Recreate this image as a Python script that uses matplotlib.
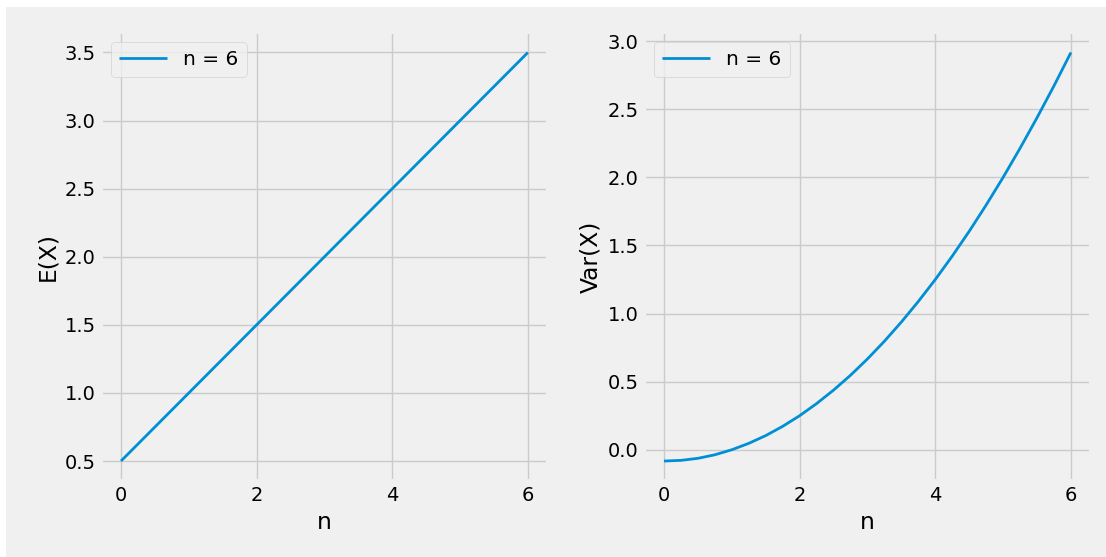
import matplotlib
matplotlib.use('Agg')
import matplotlib.pyplot as plt
from matplotlib.patches import Rectangle

# values
n_mean = [0, 6]
mean_vals = [0.5, 3.5]

n_var = [0, 0.25, 0.5, 0.75, 1, 1.25, 1.5, 1.75, 2, 2.25, 2.5, 2.75, 3,
         3.25, 3.5, 3.75, 4, 4.25, 4.5, 4.75, 5, 5.25, 5.5, 5.75, 6]
var_vals = [-0.083, -0.078, -0.063, -0.037, 0.0, 0.047, 0.104, 0.172, 0.25,
            0.339, 0.438, 0.547, 0.667, 0.797, 0.938, 1.089, 1.25, 1.422,
            1.604, 1.797, 2.0, 2.214, 2.438, 2.672, 2.917]

label = 'n = 6'
x_ticks = [0, 2, 4, 6]

plt.style.use('fivethirtyeight')
W, H = 1106, 557
fig = plt.figure(figsize=(W / 100, H / 100), dpi=100)

# thin white strips along the top and left edges
fig.add_artist(Rectangle((0, 1 - 7 / H), 1, 7 / H, transform=fig.transFigure,
                         facecolor='white', edgecolor='none', zorder=-5))
fig.add_artist(Rectangle((0, 0), 6 / W, 1, transform=fig.transFigure,
                         facecolor='white', edgecolor='none', zorder=-5))

bottom, top = 0.1356, 0.9425
ax1 = fig.add_axes([0.0910, bottom, 0.4047, top - bottom])
ax2 = fig.add_axes([0.5820, bottom, 0.4047, top - bottom])

ax1.plot(n_mean, mean_vals, lw=2, label=label)
ax1.set_xlabel('n')
ax1.set_ylabel('E(X)')
ax1.set_xticks(x_ticks)
ax1.legend(loc='upper left', fontsize=14.5, handlelength=2.4)

ax2.plot(n_var, var_vals, lw=2, label=label)
ax2.set_xlabel('n')
ax2.set_ylabel('Var(X)')
ax2.set_xticks(x_ticks)
ax2.legend(loc='upper left', fontsize=14.5, handlelength=2.4)

plt.savefig('out.png')
